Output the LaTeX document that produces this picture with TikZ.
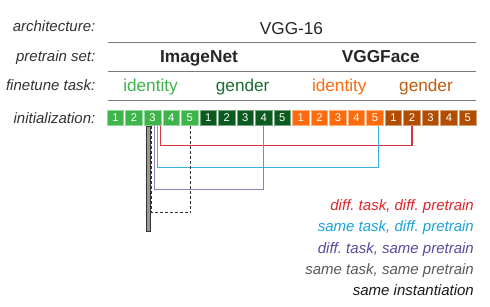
\documentclass[tikz,border=0pt]{standalone}
\usepackage{fontspec}
\setmainfont{Liberation Sans}
\usetikzlibrary{calc}
\frenchspacing
\definecolor{lgreen}{HTML}{3DB54A}
\definecolor{dgreen}{HTML}{0B5A1E}
\definecolor{dgreentext}{HTML}{1B6E32}
\definecolor{vorange}{HTML}{FF6A0D}
\definecolor{vbrown}{HTML}{B04D00}
\definecolor{vbrowntext}{HTML}{C25A10}
\definecolor{redl}{HTML}{D9343F}
\definecolor{redt}{HTML}{E2232A}
\definecolor{cyanl}{HTML}{3BB0E0}
\definecolor{cyant}{HTML}{1BA3DC}
\definecolor{purpl}{HTML}{9080B8}
\definecolor{purpt}{HTML}{5A4B9B}
\definecolor{labelc}{HTML}{333333}
\definecolor{rulec}{HTML}{7A7A7A}
\begin{document}
\begin{tikzpicture}[x=1pt,y=-1pt,
  rowlabel/.style={anchor=base east,font=\fontsize{15}{15}\selectfont\itshape,text=labelc,inner sep=0},
  head/.style={anchor=base,font=\fontsize{17.3}{17}\selectfont\bfseries,text=black!85,inner sep=0},
  task/.style={anchor=base,font=\fontsize{17.2}{17}\selectfont,inner sep=0},
  legend/.style={anchor=base east,font=\fontsize{15}{15}\selectfont\itshape,inner sep=0},
  layer/.style={minimum width=16.5pt,minimum height=15.5pt,inner sep=0,text=white,
    font=\fontsize{11.2}{11}\selectfont,line width=0.7pt},
  rulel/.style={draw=rulec,line width=0.9pt},
  conn/.style={line width=1.1pt}]
\path[use as bounding box,fill=white] (0,0) rectangle (490,306);
% row labels
\node[rowlabel] (larch) at (95.5,31.7) {architecture:};
\node[rowlabel] (lpre) at (95.5,61.7) {pretrain set:};
\node[rowlabel] (lfin) at (95.5,90.7) {finetune task:};
\node[rowlabel] (linit) at (95.5,123.3) {initialization:};
% header
\node[anchor=base,font=\fontsize{17.2}{17}\selectfont,text=black!85,inner sep=0] (vgg) at (291.5,34.3) {VGG-16};
\draw[rulel] (107.5,42.7) -- (475.8,42.7);
\node[head] (imnet) at (199,62.7) {ImageNet};
\node[head] (vggf) at (380.7,62.7) {VGGFace};
\draw[rulel] (107.5,71) -- (475.8,71);
\node[task,text=lgreen] (t1) at (150.5,91.7) {identity};
\node[task,text=dgreentext] (t2) at (242.7,91.7) {gender};
\node[task,text=vorange] (t3) at (339.3,91.7) {identity};
\node[task,text=vbrowntext] (t4) at (426,91.7) {gender};
\draw[rulel] (107.5,100.5) -- (475.8,100.5);
% layer boxes
\foreach \i in {1,...,5}{
  \node[layer,fill=lgreen,draw=lgreen!55!white] (a\i) at ({115.55+18.53*(\i-1)},117.8) {\i};
  \node[layer,fill=dgreen,draw=dgreen!55!white] (b\i) at ({115.55+18.53*(\i+4)},117.8) {\i};
  \node[layer,fill=vorange,draw=vorange!55!white] (c\i) at ({115.55+18.53*(\i+9)},117.8) {\i};
  \node[layer,fill=vbrown,draw=vbrown!55!white] (d\i) at ({115.55+18.53*(\i+14)},117.8) {\i};
}
% connectors
\draw[conn,draw=redl] ([xshift=8.2pt]a3.south) -- ++(0,19.5) -| (d2.south);
\draw[conn,draw=cyanl] ([xshift=5.3pt]a3.south) -- ++(0,41.8) -| ([xshift=3.8pt]c5.south);
\draw[conn,draw=purpl] ([xshift=1.8pt]a3.south) -- ++(0,63.8) -| (b4.south);
\draw[conn,draw=black!80,line width=1pt,dash pattern=on 3pt off 2pt] ([xshift=-0.8pt]a3.south) -- ++(0,86.8) -| ([xshift=1.3pt]a5.south);
\draw[fill=black!40,draw=black!80,line width=0.7pt] ([xshift=-6.1pt]a3.south) rectangle ++(3.4,105.5);
% legend
\node[legend,text=redt] (g1) at (474,210.7) {diff. task, diff. pretrain};
\node[legend,text=cyant] (g2) at (474,231.9) {same task, diff. pretrain};
\node[legend,text=purpt] (g3) at (474,253.1) {diff. task, same pretrain};
\node[legend,text=black!65] (g4) at (474,274.3) {same task, same pretrain};
\node[legend,text=black!90] (g5) at (474,295.5) {same instantiation};
\end{tikzpicture}
\end{document}
